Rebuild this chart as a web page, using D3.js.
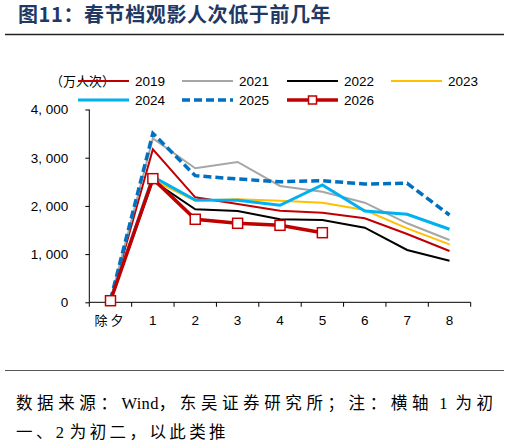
<!DOCTYPE html>
<html><head><meta charset="utf-8">
<script src="https://cdn.jsdelivr.net/npm/d3@7"></script>
<style>
body{margin:0;background:#fff;}
svg{display:block;}
</style></head>
<body>
<svg id="c" width="509" height="448"></svg>
<script>
const categories = ["除夕","1","2","3","4","5","6","7","8"];
const yTicks = [0,1000,2000,3000,4000];
const years = ["2019","2021","2022","2023","2024","2025","2026"];
const v2019 = [40,3174,2178,2039,1900,1859,1743,1417,1064];
const v2021 = [50,3400,2780,2911,2413,2295,2066,1639,1293];
const v2022 = [40,2523,1929,1894,1722,1707,1548,1085,863];
const v2023 = [45,2537,2108,2137,2108,2066,1915,1535,1203];
const v2024 = [45,2606,2122,2116,2012,2434,1894,1826,1515];
const v2025 = [50,3506,2627,2558,2502,2523,2454,2469,1811];
const v2026 = [33,2565,1722,1639,1597,1444];

const seriesValues = [v2019,v2021,v2022,v2023,v2024,v2025,v2026];
const styles = [
  {color:"#c00000", w:2},
  {color:"#a6a6a6", w:2},
  {color:"#000000", w:2},
  {color:"#ffc000", w:2},
  {color:"#00b0f0", w:3},
  {color:"#0070c0", w:3.5, dash:"8,4"},
  {color:"#c00000", w:3.5, marker:true}
];

const svg = d3.select("#c");
const x = d3.scaleBand().domain(categories).range([89.3,470.7]);
const y = d3.scaleLinear().domain([0,4000]).range([302.3,109.5]);

// title
svg.append("text").attr("x",18).attr("y",22)
  .attr("font-family","'Noto Sans CJK SC'").attr("font-weight","bold")
  .attr("font-size",20).attr("letter-spacing",0.6).attr("fill","#1f3864").text("图11：春节档观影人次低于前几年");
svg.append("line").attr("x1",5).attr("x2",504).attr("y1",34.5).attr("y2",34.5)
  .attr("stroke","#222").attr("stroke-width",1.6);

// axes
const yAxis = d3.axisLeft(y).tickValues(yTicks).tickSize(4).tickPadding(17)
  .tickFormat(d => d3.format(",")(d).replace(",", ", "));
const gy = svg.append("g").attr("transform","translate(89.3,0)").call(yAxis);
gy.selectAll("text").attr("font-family","'Liberation Sans',Arial,sans-serif").attr("font-size",13.5).attr("fill","#000");
gy.selectAll("line,path").attr("stroke","#000");
gy.select(".domain").attr("d","M0,109.5V302.3");

const xAxis = d3.axisBottom(x).tickSize(0).tickPadding(13);
const gx = svg.append("g").attr("transform","translate(0,302.3)").call(xAxis);
gx.selectAll("text").attr("font-family","'Liberation Sans','Noto Sans CJK SC',sans-serif").attr("font-size",13.5).attr("fill","#000");
gx.select(".domain").attr("stroke","#000").attr("d","M89.3,0H470.7");
// band boundary ticks
const bounds = categories.map(c => x(c)).concat([x.range()[1]]);
gx.selectAll(".bt").data(bounds).enter().append("line")
  .attr("x1",d=>d).attr("x2",d=>d).attr("y1",0).attr("y2",4.5).attr("stroke","#000");
gx.selectAll(".tick text").filter(d=>d==="除夕").attr("font-family","'Noto Sans CJK SC'").attr("font-size",13).attr("letter-spacing",3);

// lines
const line = d3.line().x((d,i)=>x(categories[i])+x.bandwidth()/2).y(d=>y(d));
seriesValues.forEach((vals,k)=>{
  const s = styles[k];
  svg.append("path").datum(vals).attr("d",line).attr("fill","none")
    .attr("stroke",s.color).attr("stroke-width",s.w)
    .attr("stroke-dasharray",s.dash||null).attr("stroke-linejoin","miter");
  if(s.marker){
    svg.selectAll(".m"+k).data(vals).enter().append("rect")
      .attr("x",(d,i)=>x(categories[i])+x.bandwidth()/2-5)
      .attr("y",d=>y(d)-5).attr("width",10).attr("height",10)
      .attr("fill","#fff").attr("stroke",s.color).attr("stroke-width",1.5);
  }
});

// legend
svg.append("text").attr("x",50).attr("y",86).attr("font-family","'Noto Sans CJK SC'")
  .attr("font-size",13).attr("fill","#000").text("（万人次）");
const legPos = [[78,81],[182,81],[287,81],[391,81],[78,100],[182,100],[287,100]];
years.forEach((yr,k)=>{
  const s = styles[k]; const [lx,ly] = legPos[k];
  const g = svg.append("g");
  g.append("line").attr("x1",lx).attr("x2",lx+51).attr("y1",ly).attr("y2",ly)
    .attr("stroke",s.color).attr("stroke-width",s.w).attr("stroke-dasharray",s.dash||null);
  if(s.marker){
    g.append("rect").attr("x",lx+25.5-4).attr("y",ly-4).attr("width",8).attr("height",8)
      .attr("fill","#fff").attr("stroke",s.color).attr("stroke-width",1.5);
  }
  g.append("text").attr("x",lx+57).attr("y",ly+5).attr("font-family","'Liberation Sans',Arial,sans-serif")
    .attr("font-size",13.5).attr("fill","#000").text(yr);
});

// bottom rule and note
svg.append("line").attr("x1",5).attr("x2",504).attr("y1",370.5).attr("y2",370.5)
  .attr("stroke","#555").attr("stroke-width",1);
const note = svg.append("g").attr("font-family","'Liberation Serif','Noto Sans CJK SC',serif")
  .attr("font-size",16.5).attr("fill","#000");
function noteLine(yy, parts){
  const t = note.append("text").attr("x",16).attr("y",yy);
  parts.forEach(([txt,ls])=>t.append("tspan").attr("letter-spacing",ls).text(txt));
}
noteLine(409, [["数据来源：",4.6],["Wind",0.3],["，东吴证券研究所；注：横轴",4.6],[" 1 ",2],["为初",4.6]]);
noteLine(438, [["一、",3.4],["2 ",0.8],["为初二，以此类推",3.4]]);
</script>
</body></html>
